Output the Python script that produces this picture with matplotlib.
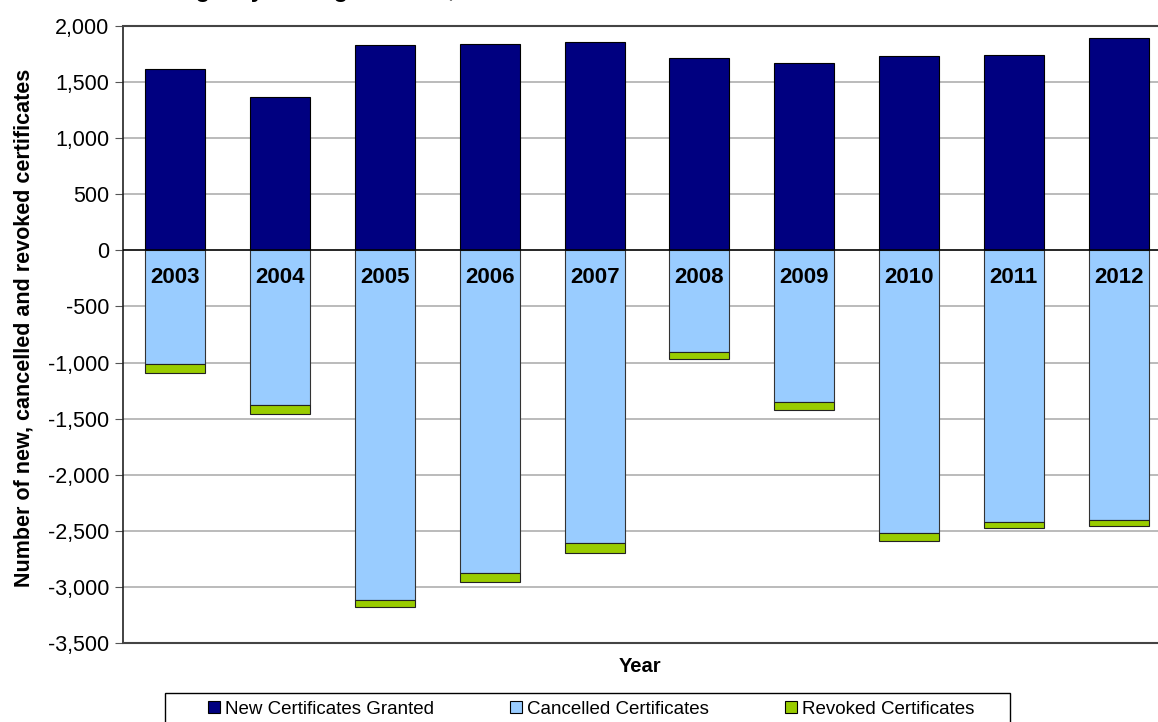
import numpy as np
import matplotlib
matplotlib.use("Agg")
import matplotlib.pyplot as plt
from matplotlib.lines import Line2D
from matplotlib.patches import Rectangle
from matplotlib.ticker import FuncFormatter

# valores
anos = ['2003', '2004', '2005', '2006', '2007', '2008', '2009', '2010', '2011', '2012']
novos = [1616, 1367, 1830, 1840, 1857, 1715, 1670, 1733, 1741, 1890]
cancelados = [1014, 1379, 3121, 2876, 2607, 910, 1349, 2518, 2420, 2402]
revogados = [80, 80, 62, 83, 88, 60, 71, 74, 53, 54]
yticks = list(range(-3500, 2001, 500))

titulo = "Number of Certificates Issued at Agency Listing Stations, 2003-2012"

plt.rcParams['font.family'] = ['Liberation Sans', 'DejaVu Sans']

cor_novo = '#000080'
cor_cancel = '#99CCFF'
cor_revog = '#99CC00'

fig = plt.figure(figsize=(11.58, 7.22), dpi=100)
ax = fig.add_axes([123 / 1158, 1 - 643 / 722, 1048 / 1158, 617 / 722])

x = np.arange(len(anos))
neg_cancel = -np.array(cancelados)
neg_revog = -np.array(revogados)
largura = 0.573

ax.bar(x, novos, largura, color=cor_novo, edgecolor='black', linewidth=0.8, zorder=3)
ax.bar(x, neg_cancel, largura, color=cor_cancel, edgecolor='#333333', linewidth=0.8, zorder=3)
ax.bar(x, neg_revog, largura, bottom=neg_cancel, color=cor_revog, edgecolor='#222222', linewidth=0.8, zorder=3)

for i, ano in enumerate(anos):
    ax.annotate(ano, xy=(i, 0), xytext=(0, -19.5), textcoords='offset points',
                ha='center', va='center', fontsize=16, fontweight='bold', zorder=5)

ax.axhline(0, color='black', linewidth=1.1, zorder=4)
ax.set_xlim(-0.5, len(anos) - 0.5)
ax.set_ylim(-3500, 2000)
ax.set_yticks(yticks)
ax.yaxis.set_major_formatter(FuncFormatter(lambda v, p: f'{int(v):,}'))
ax.yaxis.grid(True, color='#a8a8a8', linewidth=1.1)
ax.set_axisbelow(True)
ax.set_xticks([])
ax.tick_params(axis='y', direction='out', length=6, color='#555555', labelsize=15.5, pad=4)

for s in ['top', 'bottom']:
    ax.spines[s].set_color('#444444')
    ax.spines[s].set_linewidth(1.5)
ax.spines['left'].set_color('#222222')
ax.spines['left'].set_linewidth(1.2)
ax.spines['right'].set_visible(False)

ax.set_ylabel('Number of new, cancelled and revoked certificates', fontsize=15.5,
              fontweight='bold')
ax.yaxis.set_label_coords(-0.084, 0.51)
fig.text(640 / 1158, 1 - 667 / 722, 'Year', ha='center', va='center',
         fontsize=14.5, fontweight='bold')

# titulo cortado no topo da imagem, so aparecem as descendentes
props = dict(fontsize=17, fontweight='bold')
renderer = fig.canvas.get_renderer()
tmp = fig.text(0, 0, titulo[:titulo.index('Agency') + 1], **props)
w = tmp.get_window_extent(renderer).width
tmp.remove()
fig.text((196 - w) / 1158, 1 + 3 / 722, titulo, ha='left', va='baseline', **props)

# caixa da legenda (vai alem da borda de baixo)
fig.patches.append(Rectangle((165 / 1158, -10 / 722), 845 / 1158, 39 / 722,
                             transform=fig.transFigure, facecolor='white',
                             edgecolor='black', linewidth=1.0, zorder=1))
handles = [Line2D([], [], linestyle='none', marker='s', markersize=8, markerfacecolor=c,
                  markeredgecolor='black', markeredgewidth=0.8)
           for c in [cor_novo, cor_cancel, cor_revog]]
leg = fig.legend(handles, ['New Certificates Granted', 'Cancelled Certificates', 'Revoked Certificates'],
                 loc='center', bbox_to_anchor=(591 / 1158, 1 - 709 / 722), ncol=3,
                 frameon=False, handlelength=0.7, handletextpad=0.25, columnspacing=4.0,
                 borderpad=0, borderaxespad=0, prop=dict(size=13.5))

fig.savefig('out.png', dpi=100)
